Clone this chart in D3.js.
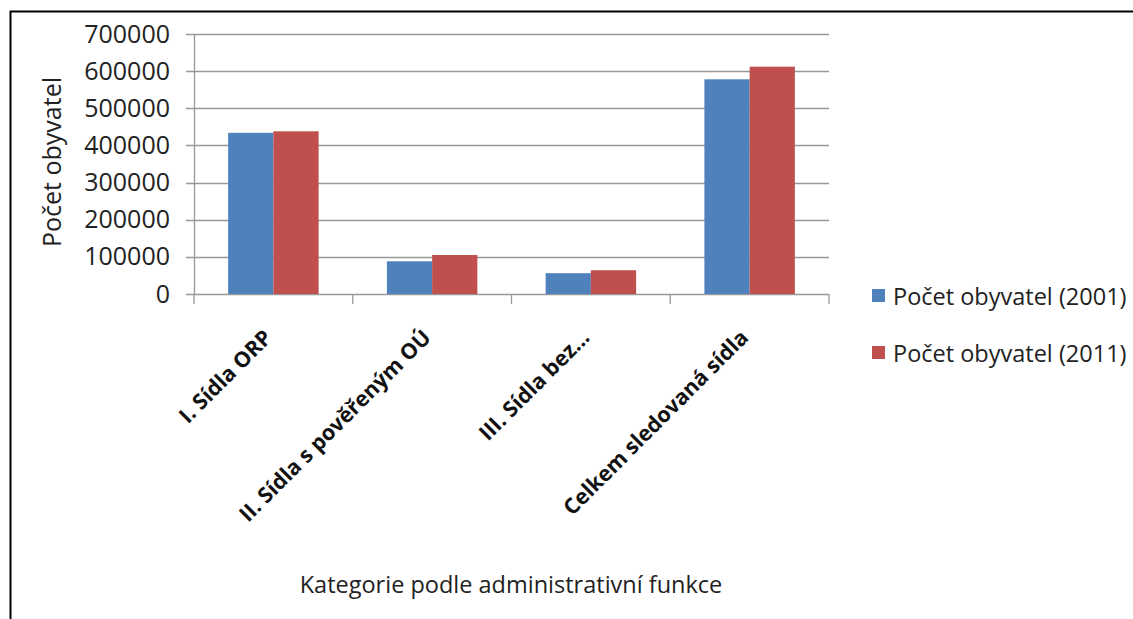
<!DOCTYPE html>
<html>
<head>
<meta charset="utf-8">
<script src="https://cdn.jsdelivr.net/npm/d3@7"></script>
<style>
  body { margin: 0; background: #fff; }
  svg { display: block; }
</style>
</head>
<body>
<svg width="1133" height="619"></svg>
<script>
const categories = ["I. Sídla ORP", "II. Sídla s pověřeným OÚ", "III. Sídla bez...", "Celkem sledovaná sídla"];
const series = ["Počet obyvatel (2001)", "Počet obyvatel (2011)"];
const values2001 = [434000, 88000, 56000, 578000];
const values2011 = [438000, 105000, 64000, 612000];
const yTicks = [0, 100000, 200000, 300000, 400000, 500000, 600000, 700000];
const colors = ["#4F81BD", "#C0504D"];

const svg = d3.select("svg");
const font = "'Open Sans', sans-serif";
const margin = {top: 34, left: 194},
  width = 635,
  height = 260;

// frame
svg.append("path")
  .attr("d", "M10.5,619 V11.5 H1133")
  .attr("fill", "none")
  .attr("stroke", "#000")
  .attr("stroke-width", 2);

const x0 = d3.scaleBand().domain(categories).range([0, width]).paddingInner(0.43).paddingOuter(0.215);
const x1 = d3.scaleBand().domain(series).range([0, x0.bandwidth()]);
const y = d3.scaleLinear().domain([0, 700000]).range([height, 0]);

const g = svg.append("g").attr("transform", "translate(" + margin.left + "," + margin.top + ")");

// gridlines
g.append("g")
  .selectAll("line")
  .data(yTicks)
  .enter()
  .append("line")
  .attr("x1", -8).attr("x2", width)
  .attr("y1", d => Math.round(y(d)) + 0.5).attr("y2", d => Math.round(y(d)) + 0.5)
  .attr("stroke", "#999")
  .attr("stroke-width", 1.3);

// y axis
const yAxis = g.append("g")
  .call(d3.axisLeft(y).tickValues(yTicks).tickSize(0).tickPadding(24).tickFormat(d3.format("d")));
yAxis.select(".domain").attr("stroke", "#999").attr("stroke-width", 1.3);
yAxis.selectAll("text").style("font-family", font).style("font-size", "25px").attr("fill", "#222");

// x axis with boundary ticks
const bounds = d3.range(categories.length + 1).map(i => i * width / categories.length);
g.append("g")
  .selectAll("line")
  .data(bounds)
  .enter()
  .append("line")
  .attr("x1", d => d).attr("x2", d => d)
  .attr("y1", height).attr("y2", height + 10)
  .attr("stroke", "#999")
  .attr("stroke-width", 1.3);

// bars
const rows = categories.map((c, i) => ({cat: c, vals: [values2001[i], values2011[i]]}));
g.append("g")
  .selectAll("g")
  .data(rows)
  .enter()
  .append("g")
  .attr("transform", d => "translate(" + x0(d.cat) + ",0)")
  .selectAll("rect")
  .data(d => d.vals.map((v, j) => ({s: series[j], v: v, j: j})))
  .enter()
  .append("rect")
  .attr("x", d => x1(d.s))
  .attr("width", x1.bandwidth())
  .attr("y", d => y(d.v))
  .attr("height", d => height - y(d.v))
  .attr("fill", d => colors[d.j]);

// category labels
g.append("g")
  .selectAll("text")
  .data(categories)
  .enter()
  .append("text")
  .attr("transform", d => "translate(" + (x0(d) + x0.bandwidth() / 2) + "," + (height + 45) + ")rotate(-45)")
  .attr("text-anchor", "end")
  .style("font-family", font)
  .style("font-size", "21.5px")
  .style("font-weight", "bold")
  .attr("fill", "#111")
  .text(d => d);

// y label
svg.append("text")
  .attr("text-anchor", "middle")
  .attr("transform", "translate(61,162)rotate(-90)")
  .style("font-family", font)
  .style("font-size", "25px")
  .attr("fill", "#222")
  .text("Počet obyvatel");

// x label
svg.append("text")
  .attr("x", 511)
  .attr("y", 593)
  .attr("text-anchor", "middle")
  .style("font-family", font)
  .style("font-size", "23.5px")
  .attr("fill", "#222")
  .text("Kategorie podle administrativní funkce");

// legend
const legend = svg.append("g")
  .selectAll("g")
  .data(series)
  .enter()
  .append("g")
  .attr("transform", (d, i) => "translate(872," + (289 + i * 57) + ")");
legend.append("rect")
  .attr("width", 13).attr("height", 13)
  .attr("fill", (d, i) => colors[i]);
legend.append("text")
  .attr("x", 21)
  .attr("y", 16)
  .style("font-family", font)
  .style("font-size", "23.5px")
  .attr("fill", "#222")
  .text(d => d);
</script>
</body>
</html>
